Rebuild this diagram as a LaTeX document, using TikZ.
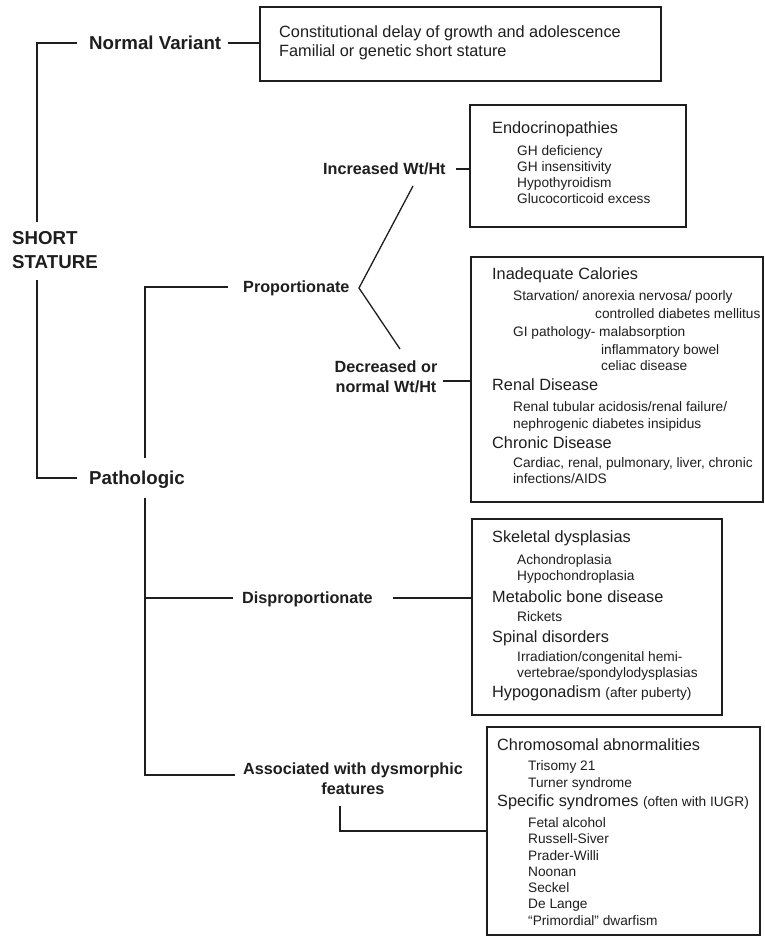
\documentclass[tikz,border=0pt]{standalone}
\usepackage{fontspec}
\setmainfont{Liberation Sans}
\definecolor{ink}{HTML}{1E1E1E}
\tikzset{
 lone/.style={font=\fontsize{18.7}{24}\selectfont\bfseries, text=ink, inner sep=0pt, text height=13.4pt, text depth=0pt, anchor=west},
 ltwo/.style={font=\fontsize{16.2}{20}\selectfont\bfseries, text=ink, inner sep=0pt, text height=11.6pt, text depth=0pt, anchor=west},
 mlone/.style={font=\fontsize{18.7}{24}\selectfont\bfseries, text=ink, inner sep=0pt, align=left, anchor=base west},
 mltwo/.style={font=\fontsize{16.2}{20}\selectfont\bfseries, text=ink, inner sep=0pt, align=center, anchor=base},
 hd/.style={font=\fontsize{16.3}{19}\selectfont, text=ink, inner sep=0pt, text height=11.7pt, text depth=0pt, anchor=west},
 sb/.style={font=\fontsize{13.7}{16}\selectfont, text=ink, inner sep=0pt, text height=9.8pt, text depth=0pt, anchor=west},
 bx/.style={draw=ink, line width=1.4pt, inner sep=0pt},
 ln/.style={draw=ink, line width=1.3pt},
}
\newcommand{\smtxt}[1]{{\fontsize{13.7}{16}\selectfont #1}}
\begin{document}
\begin{tikzpicture}[x=1pt,y=-1pt]
\useasboundingbox (0,0) rectangle (765,937);
\fill[white] (0,0) rectangle (765,937);

% boxes
\node[bx, minimum width=401pt, minimum height=74pt] (b1) at (460.5,44) {};
\node[bx, minimum width=216pt, minimum height=122pt] (b2) at (578,166) {};
\node[bx, minimum width=292pt, minimum height=245pt] (b3) at (617,379.5) {};
\node[bx, minimum width=250pt, minimum height=196pt] (b4) at (597,617) {};
\node[bx, minimum width=273pt, minimum height=208pt] (b5) at (623.5,831) {};

% tree labels
\node[lone] (nv) at (89,43) {Normal Variant};
\node[mlone] (ss) at (12,268.7) {SHORT\\STATURE};
\node[lone, inner ysep=13pt] (pat) at (89,478) {Pathologic};
\node[ltwo] (prop) at (243,287) {Proportionate};
\node[ltwo] (inc) at (323,169) {Increased Wt/Ht};
\node[mltwo] (dec) at (386,392.8) {Decreased or\\normal Wt/Ht};
\node[ltwo] (dis) at (242,598) {Disproportionate};
\node[mltwo] (assoc) at (353,794.8) {Associated with dysmorphic\\features};

% connectors
\coordinate (rt) at (37,222);
\coordinate (rb) at (37,280);
\coordinate (v2) at (145,287);
\coordinate (a1) at (235,775);
\coordinate (apex) at (359,288);
\coordinate (ka) at (413,186);
\coordinate (kb) at (400,349);
\coordinate (dc) at (443,381);
\coordinate (ad) at (340,806);
\draw[ln] ([xshift=-12pt]nv.west) -| (rt);
\draw[ln] (rb) |- ([xshift=-12pt]pat.west);
\draw[ln] ([xshift=7pt]nv.east) -- (b1.west |- nv.east);
\draw[ln] ([xshift=-15pt]prop.west) -| (pat.north -| v2);
\draw[ln] (pat.south -| v2) |- (a1);
\draw[ln] (v2 |- dis.west) -- ([xshift=-9pt]dis.west);
\draw[ln, line join=miter] (ka) -- (apex) -- (kb);
\draw[ln] ([xshift=10pt]inc.east) -- (inc.east -| b2.west);
\draw[ln] (dc) -- (dc -| b3.west);
\draw[ln] ([xshift=20pt]dis.east) -- (dis.east -| b4.west);
\draw[ln] (ad) |- (b5.west);

% box 1
\node[hd] (t11) at (279,32) {Constitutional delay of growth and adolescence};
\node[hd] (t12) at (279,51) {Familial or genetic short stature};

% box 2
\node[hd] (t21) at (492,128) {Endocrinopathies};
\node[sb] (t22) at (517,151) {GH deficiency};
\node[sb] (t23) at (517,167) {GH insensitivity};
\node[sb] (t24) at (517,183) {Hypothyroidism};
\node[sb] (t25) at (517,199) {Glucocorticoid excess};

% box 3
\node[hd] (t31) at (492,274) {Inadequate Calories};
\node[sb] (t32) at (513,296) {Starvation/ anorexia nervosa/ poorly};
\node[sb] (t33) at (595,314) {controlled diabetes mellitus};
\node[sb] (t34) at (513,332) {GI pathology- malabsorption};
\node[sb] (t35) at (601,350) {inflammatory bowel};
\node[sb] (t36) at (601,366) {celiac disease};
\node[hd] (t37) at (492,385) {Renal Disease};
\node[sb] (t38) at (513,407) {Renal tubular acidosis/renal failure/};
\node[sb] (t39) at (513,424) {nephrogenic diabetes insipidus};
\node[hd] (t3a) at (492,443) {Chronic Disease};
\node[sb] (t3b) at (513,463) {Cardiac, renal, pulmonary, liver, chronic};
\node[sb] (t3c) at (513,479) {infections/AIDS};

% box 4
\node[hd] (t41) at (492,537) {Skeletal dysplasias};
\node[sb] (t42) at (517,560) {Achondroplasia};
\node[sb] (t43) at (517,576) {Hypochondroplasia};
\node[hd] (t44) at (492,597) {Metabolic bone disease};
\node[sb] (t45) at (517,617) {Rickets};
\node[hd] (t46) at (492,637) {Spinal disorders};
\node[sb] (t47) at (517,657) {Irradiation/congenital hemi-};
\node[sb] (t48) at (517,673) {vertebrae/spondylodysplasias};
\node[hd] (t49) at (492,692) {Hypogonadism \smtxt{(after puberty)}};

% box 5
\node[hd] (t51) at (497,745) {Chromosomal abnormalities};
\node[sb] (t52) at (528,766) {Trisomy 21};
\node[sb] (t53) at (528,783) {Turner syndrome};
\node[hd] (t54) at (497,801) {Specific syndromes \smtxt{(often with IUGR)}};
\node[sb] (t55) at (528,823) {Fetal alcohol};
\node[sb] (t56) at (528,839) {Russell-Siver};
\node[sb] (t57) at (528,856) {Prader-Willi};
\node[sb] (t58) at (528,872) {Noonan};
\node[sb] (t59) at (528,888) {Seckel};
\node[sb] (t5a) at (528,904) {De Lange};
\node[sb] (t5b) at (528,921) {``Primordial'' dwarfism};
\end{tikzpicture}
\end{document}
